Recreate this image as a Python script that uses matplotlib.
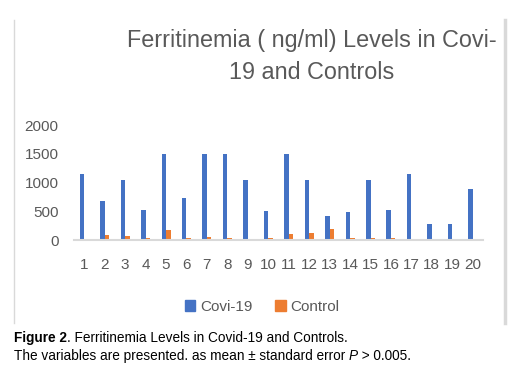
import matplotlib
matplotlib.use('Agg')
import matplotlib.pyplot as plt
from matplotlib.lines import Line2D
from matplotlib.patches import Patch
from matplotlib import font_manager as fm
import numpy as np

categories = [str(i) for i in range(1, 21)]
covid = [1150, 680, 1050, 530, 1500, 730, 1500, 1500, 1050, 510,
         1500, 1050, 420, 490, 1050, 530, 1150, 280, 280, 890]
control = [0, 90, 70, 40, 175, 40, 60, 40, 0, 35,
           105, 120, 190, 35, 35, 35, 20, 20, 0, 20]
yticks = [0, 500, 1000, 1500, 2000]

plt.rcParams['font.family'] = ['Liberation Sans', 'DejaVu Sans']

W, H = 515, 376
fig = plt.figure(figsize=(W / 100, H / 100), dpi=100)
ax = fig.add_axes([74 / W, 1 - 240 / H, (483 - 74) / W, 115 / H])

blue = '#4472C4'
orange = '#ED7D31'
grey_txt = '#595959'
x = np.arange(len(categories))
bw = 0.22
ax.bar(x - bw / 2, covid, bw, color=blue)
ax.bar(x + bw / 2, control, bw, color=orange)

ax.set_xlim(-0.5, len(categories) - 0.5)
ax.set_ylim(0, 2000)
ax.set_yticks(yticks)
ax.set_xticks(x)
ax.set_xticklabels(categories)
ax.tick_params(axis='both', length=0, labelsize=11, labelcolor=grey_txt)
ax.tick_params(axis='x', pad=13)
ax.tick_params(axis='y', pad=11)
for s in ['top', 'right', 'left']:
    ax.spines[s].set_visible(False)
ax.spines['bottom'].set_color('#d9d9d9')
ax.spines['bottom'].set_linewidth(1.5)

# title
fig.text(312 / W, 1 - 56.5 / H, 'Ferritinemia ( ng/ml) Levels in Covi-\n19 and Controls',
         ha='center', va='center', fontsize=16.8, color=grey_txt, linespacing=1.55)

# legend
handles = [Patch(color=blue, label='Covi-19'), Patch(color=orange, label='Control')]
fig.legend(handles=handles, loc='center', bbox_to_anchor=(262 / W, 1 - 307 / H),
           ncol=2, frameon=False, fontsize=11, handlelength=0.7, handleheight=0.7,
           handletextpad=0.3, columnspacing=1.5, labelcolor=grey_txt)

# chart frame lines
fig.add_artist(Line2D([13.5 / W, 13.5 / W], [1 - 20 / H, 1 - 323 / H], color='#d9d9d9', lw=1))
fig.add_artist(Line2D([505 / W, 505 / W], [1 - 20 / H, 1 - 323 / H], color='#d9d9d9', lw=2.5))

# caption (narrow font if available)
cap_fp = fm.FontProperties(family='Noto Sans', stretch='condensed')
if 'ondensed' in fm.findfont(cap_fp):
    cap_family, cap_stretch, cap_size = 'Noto Sans', 'condensed', 10.5
else:
    cap_family, cap_stretch, cap_size = 'Liberation Sans', 'normal', 9.8


def caption_line(y, parts):
    renderer = fig.canvas.get_renderer()
    xpos = 14
    for txt, weight, style in parts:
        t = fig.text(xpos / W, 1 - y / H, txt, ha='left', va='center', fontsize=cap_size,
                     color='black', family=cap_family, stretch=cap_stretch,
                     weight=weight, style=style)
        xpos += t.get_window_extent(renderer).width


caption_line(338, [('Figure 2', 'bold', 'normal'),
                   ('. Ferritinemia Levels in Covid-19 and Controls.', 'normal', 'normal')])
caption_line(356, [('The variables are presented. as mean ± standard error ', 'normal', 'normal'),
                   ('P', 'normal', 'italic'),
                   (' > 0.005.', 'normal', 'normal')])

fig.savefig('out.png', dpi=100)
